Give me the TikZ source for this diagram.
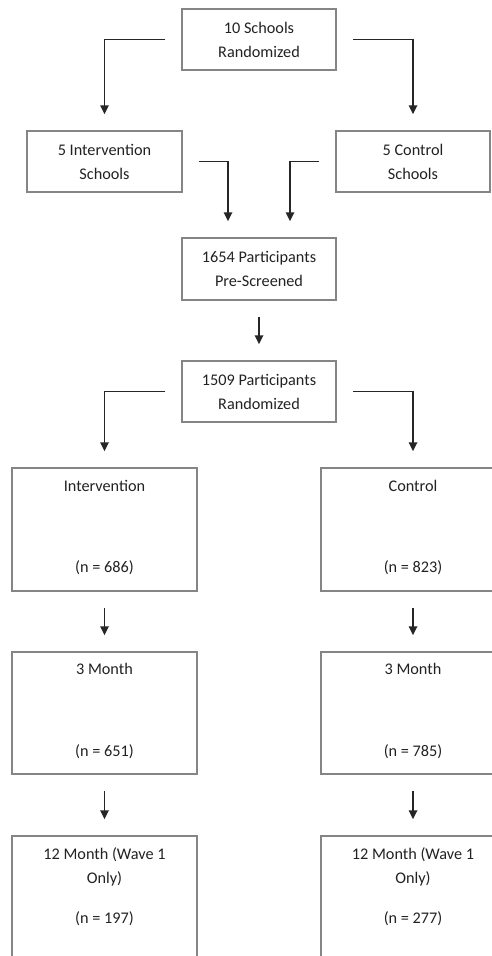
\documentclass[tikz,border=0pt]{standalone}
\usepackage{fontspec}
\setmainfont{Carlito}
\usetikzlibrary{arrows.meta}
\definecolor{boxgray}{HTML}{858585}
\definecolor{txtgray}{HTML}{222222}
\tikzset{
  box/.style={draw=boxgray, line width=1.5bp, fill=white, inner sep=0pt,
    align=center, text=txtgray,
    font=\fontsize{16.3}{24}\selectfont},
  lbl/.style={inner sep=0pt, text=txtgray, font=\fontsize{16.3}{24}\selectfont},
  arr/.style={draw=black!85, line width=1.7bp,
    -{Triangle[width=8.5bp,length=9bp]},
    shorten <=16bp, shorten >=16bp},
}
\begin{document}
\begin{tikzpicture}[x=1bp,y=-1bp]
\useasboundingbox (0,0) rectangle (492,956);
\clip (0,0) rectangle (492,956);
\fill[white] (0,0) rectangle (492,956);

% top level
\node[box, minimum width=154bp, minimum height=61bp] (top) at (259,39.5) {10 Schools\\Randomized};
\node[box, minimum width=155bp, minimum height=61bp] (ischool) at (104.5,161.5) {5 Intervention\\Schools};
\node[box, minimum width=154bp, minimum height=61bp] (cschool) at (413,161.5) {5 Control\\Schools};
\node[box, minimum width=154bp, minimum height=62bp] (pre) at (259,269) {1654 Participants\\Pre-Screened};
\node[box, minimum width=154bp, minimum height=61bp] (rand) at (259,391.5) {1509 Participants\\Randomized};

% arms
\node[box, minimum width=185bp, minimum height=123bp] (int) at (104.5,529.5) {};
\node[box, minimum width=184bp, minimum height=123bp] (con) at (413,529.5) {};
\node[box, minimum width=185bp, minimum height=122bp] (int3) at (104.5,713) {};
\node[box, minimum width=184bp, minimum height=122bp] (con3) at (413,713) {};
\node[box, minimum width=185bp, minimum height=140bp] (int12) at (104.5,906) {};
\node[box, minimum width=184bp, minimum height=140bp] (con12) at (413,906) {};

% texts in arm boxes
\node[lbl] (tint) at (104.5,486) {Intervention};
\node[lbl] (nint) at (104.5,568) {(n = 686)};
\node[lbl] (tcon) at (413,486) {Control};
\node[lbl] (ncon) at (413,568) {(n = 823)};
\node[lbl] (tint3) at (104.5,669) {3 Month};
\node[lbl] (nint3) at (104.5,752) {(n = 651)};
\node[lbl] (tcon3) at (413,669) {3 Month};
\node[lbl] (ncon3) at (413,752) {(n = 785)};
\node[lbl] (tint12a) at (104.5,855) {12 Month (Wave 1};
\node[lbl] (tint12b) at (104.5,879) {Only)};
\node[lbl] (nint12) at (104.5,919) {(n = 197)};
\node[lbl] (tcon12a) at (413,855) {12 Month (Wave 1};
\node[lbl] (tcon12b) at (413,879) {Only)};
\node[lbl] (ncon12) at (413,919) {(n = 277)};

% connectors
\draw[arr] (top.west) -| (ischool.north);
\draw[arr] (top.east) -| (cschool.north);
\draw[arr] (ischool.east) -| ([xshift=-31bp]pre.north);
\draw[arr] (cschool.west) -| ([xshift=31bp]pre.north);
\draw[arr] (pre.south) -- (rand.north);
\draw[arr] (rand.west) -| (int.north);
\draw[arr] (rand.east) -| (con.north);
\draw[arr] (int.south) -- (int3.north);
\draw[arr] (con.south) -- (con3.north);
\draw[arr] (int3.south) -- (int12.north);
\draw[arr] (con3.south) -- (con12.north);
\end{tikzpicture}
\end{document}
